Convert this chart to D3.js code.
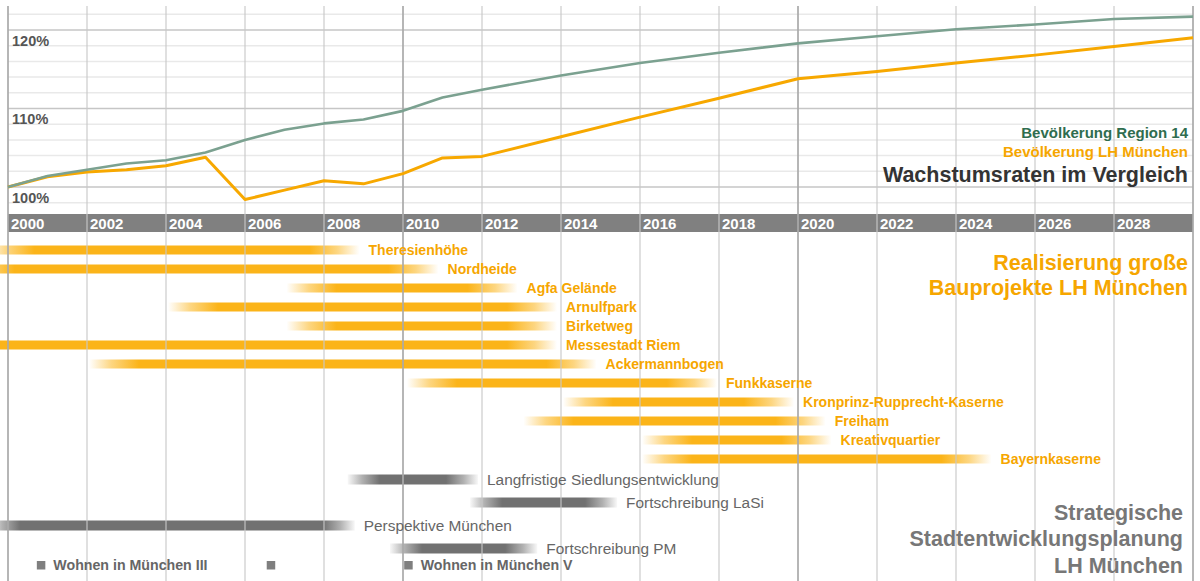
<!DOCTYPE html>
<html><head><meta charset="utf-8">
<script src="https://cdn.jsdelivr.net/npm/d3@7"></script>
<style>
html,body{margin:0;padding:0;background:#fff;}
svg{display:block;font-family:"Liberation Sans",Arial,Helvetica,sans-serif;}
</style></head><body>
<svg id="chart" width="1200" height="581"></svg>
<script>
// ---------- data ----------
const years = [2000,2001,2002,2003,2004,2005,2006,2007,2008,2009,2010,2011,2012,2014,2016,2018,2020,2022,2024,2026,2028,2030];
const region14 = [100,101.4,102.2,103.0,103.4,104.4,106.0,107.3,108.1,108.6,109.7,111.4,112.4,114.2,115.8,117.1,118.3,119.2,120.1,120.7,121.4,121.7];
const muenchen = [100,101.3,101.9,102.2,102.7,103.8,98.4,99.6,100.8,100.4,101.7,103.7,103.9,106.4,108.9,111.3,113.8,114.7,115.8,116.8,117.9,119.0];
const yTickValues = [100,110,120];
const gridValues = [98,100,102,104,106,108,110,112,114,116,118,120,122];
const axisYears = [2000,2002,2004,2006,2008,2010,2012,2014,2016,2018,2020,2022,2024,2026,2028];
const gridYears = [2000,2002,2004,2006,2008,2010,2012,2014,2016,2018,2020,2022,2024,2026,2028,2030];

const projectNames = ["Theresienhöhe","Nordheide","Agfa Gelände","Arnulfpark","Birketweg","Messestadt Riem","Ackermannbogen","Funkkaserne","Kronprinz-Rupprecht-Kaserne","Freiham","Kreativquartier","Bayernkaserne"];
const projectStart = [1999.4,1998.9,2007.05,2004.05,2007.05,1998.5,2002.05,2010.1,2014.05,2013.05,2016.05,2016.05];
const projectEnd   = [2008.9,2010.9,2012.9,2013.9,2013.9,2013.9,2014.9,2017.95,2019.9,2020.7,2020.85,2024.9];

const planNames = ["Langfristige Siedlungsentwicklung","Fortschreibung LaSi","Perspektive München","Fortschreibung PM"];
const planStart = [2008.6,2011.7,1999.5,2009.67];
const planEnd   = [2011.9,2015.42,2008.78,2013.4];

const wohnenYears  = [2000.73,2006.55,2010.03];
const wohnenLabels = ["Wohnen in München III","","Wohnen in München V"];

// ---------- setup ----------
const svg = d3.select("#chart");
const W = 1200, H = 581;
const x = d3.scaleLinear().domain([2000,2030]).range([8,1193]);
const y = d3.scaleLinear().domain([100,120]).range([187,30]);
const rowY = d3.scalePoint().domain(projectNames).range([250,459]);
const planY = d3.scalePoint().domain(planNames).range([479.5,548.5]);
const wohnenRowY = 565;

const ORANGE_BAR = "#fbb419", ORANGE_TXT = "#f6a600", ORANGE_LINE = "#f7a800";
const GREEN_LINE = "#7ba190", GREEN_TXT = "#2f6d4f";
const GRAY_BAR = "#717171", GRAY_TXT = "#666";

const defs = svg.append("defs");

// horizontal grid
svg.append("g").selectAll("line").data(gridValues).join("line")
  .attr("x1", x(2000)).attr("x2", x(2030))
  .attr("y1", d => y(d)).attr("y2", d => y(d))
  .attr("stroke", d => yTickValues.includes(d) ? "#c6c6c6" : "#e9e9e9")
  .attr("stroke-width", 1.5);

// axis band
svg.append("rect").attr("x", x(2000)).attr("y", 214).attr("width", x(2030)-x(2000)).attr("height", 18).attr("fill", "#808080");

// gradient helper
function gradBar(g, id, x0, x1, yc, h, color, fadeL, fadeR, minOp) {
  const w = x1 - x0;
  const gr = defs.append("linearGradient").attr("id", id)
    .attr("gradientUnits","userSpaceOnUse").attr("x1", x0).attr("x2", x1).attr("y1",0).attr("y2",0);
  const fl = Math.min(fadeL/w, 0.45), fr = Math.min(fadeR/w, 0.45);
  gr.append("stop").attr("offset", 0).attr("stop-color", color).attr("stop-opacity", minOp);
  gr.append("stop").attr("offset", fl*0.45).attr("stop-color", color).attr("stop-opacity", 0.55);
  gr.append("stop").attr("offset", fl).attr("stop-color", color).attr("stop-opacity", 1);
  gr.append("stop").attr("offset", 1-fr).attr("stop-color", color).attr("stop-opacity", 1);
  gr.append("stop").attr("offset", 1-fr*0.45).attr("stop-color", color).attr("stop-opacity", 0.55);
  gr.append("stop").attr("offset", 1).attr("stop-color", color).attr("stop-opacity", minOp);
  g.append("rect").attr("x", x0).attr("y", yc - h/2).attr("width", w).attr("height", h)
    .attr("fill", `url(#${id})`);
}

// project bars
const gBars = svg.append("g");
projectNames.forEach((n,i) => {
  gradBar(gBars, "pg"+i, x(projectStart[i]), x(projectEnd[i]), rowY(n), 9, ORANGE_BAR, 50, 50, 0);
});
// plan bars
planNames.forEach((n,i) => {
  gradBar(gBars, "pl"+i, x(planStart[i]), x(planEnd[i]), planY(n), 10, GRAY_BAR, 32, 32, 0.05);
});
// Wohnen squares
gBars.selectAll("rect.wq").data(wohnenYears).join("rect").attr("class","wq")
  .attr("x", d => x(d)).attr("y", wohnenRowY - 4).attr("width", 8.5).attr("height", 8.5)
  .attr("fill", "#7f7f7f");

// vertical grid (on top of bars)
svg.append("g").selectAll("line").data(gridYears).join("line")
  .attr("x1", d => x(d)).attr("x2", d => x(d))
  .attr("y1", 6).attr("y2", H)
  .attr("stroke", d => d % 10 === 0 ? "#a9a9a9" : "#c8c8c8")
  .attr("stroke-opacity", d => d % 10 === 0 ? 0.85 : 0.7)
  .attr("stroke-width", d => d % 10 === 0 ? 2 : 1.6);

// x axis labels in band
const xAxis = d3.axisBottom(x).tickValues(axisYears).tickFormat(d3.format("d")).tickSize(0);
const gx = svg.append("g").attr("transform", "translate(0,214)").call(xAxis);
gx.select(".domain").remove();
gx.selectAll("text").attr("x", 2.5).attr("y", 15.3).attr("dy", null)
  .attr("text-anchor","start").attr("fill","#fff")
  .style("font-size","15px").style("font-weight","bold")
  .style("font-family",'"Liberation Sans",Arial,sans-serif');

// y axis labels
const yAxis = d3.axisRight(y).tickValues(yTickValues).tickFormat(d => d + "%").tickSize(0);
const gy = svg.append("g").attr("transform", "translate(12,0)").call(yAxis);
gy.select(".domain").remove();
gy.selectAll("text").attr("x", 0).attr("y", 15).attr("dy", null)
  .attr("text-anchor","start").attr("fill","#555")
  .style("font-size","14.5px").style("font-weight","bold")
  .style("font-family",'"Liberation Sans",Arial,sans-serif');

// lines
const line = d3.line().x((d,i) => x(years[i])).y(d => y(d));
svg.append("path").datum(muenchen).attr("d", line).attr("fill","none")
  .attr("stroke", ORANGE_LINE).attr("stroke-width", 3).attr("stroke-linejoin","round");
svg.append("path").datum(region14).attr("d", line).attr("fill","none")
  .attr("stroke", GREEN_LINE).attr("stroke-width", 2.6).attr("stroke-linejoin","round");

// legends / titles
const T = svg.append("g");
T.append("text").attr("x",1188).attr("y",137.5).attr("text-anchor","end")
  .attr("fill",GREEN_TXT).style("font-size","15px").style("font-weight","bold").text("Bevölkerung Region 14");
T.append("text").attr("x",1188).attr("y",156.5).attr("text-anchor","end")
  .attr("fill",ORANGE_TXT).style("font-size","15px").style("font-weight","bold").text("Bevölkerung LH München");
T.append("text").attr("x",1188).attr("y",182).attr("text-anchor","end")
  .attr("fill","#333").style("font-size","21.5px").style("font-weight","bold").text("Wachstumsraten im Vergleich");

T.append("text").attr("x",1188).attr("y",270).attr("text-anchor","end")
  .attr("fill",ORANGE_TXT).style("font-size","21.5px").style("font-weight","bold").text("Realisierung große");
T.append("text").attr("x",1188).attr("y",295).attr("text-anchor","end")
  .attr("fill",ORANGE_TXT).style("font-size","21.5px").style("font-weight","bold").text("Bauprojekte LH München");

["Strategische","Stadtentwicklungsplanung","LH München"].forEach((t,i) => {
  T.append("text").attr("x",1183).attr("y",520 + i*26.3).attr("text-anchor","end")
    .attr("fill","#777").style("font-size","21.5px").style("font-weight","bold").text(t);
});

// bar labels
T.selectAll("text.pl").data(projectNames).join("text").attr("class","pl")
  .attr("x", (d,i) => x(projectEnd[i]) + 9).attr("y", d => rowY(d)).attr("dy","0.35em")
  .attr("fill", ORANGE_TXT).style("font-size","14px").style("font-weight","bold").text(d => d);
T.selectAll("text.gl").data(planNames).join("text").attr("class","gl")
  .attr("x", (d,i) => x(planEnd[i]) + 9).attr("y", d => planY(d)).attr("dy","0.35em")
  .attr("fill", GRAY_TXT).style("font-size","15.4px").text(d => d);
T.selectAll("text.wl").data(wohnenLabels).join("text").attr("class","wl")
  .attr("x", (d,i) => x(wohnenYears[i]) + 16.5).attr("y", wohnenRowY).attr("dy","0.35em")
  .attr("fill", GRAY_TXT).style("font-size","14.2px").style("font-weight","bold").text(d => d);
</script>
</body></html>
